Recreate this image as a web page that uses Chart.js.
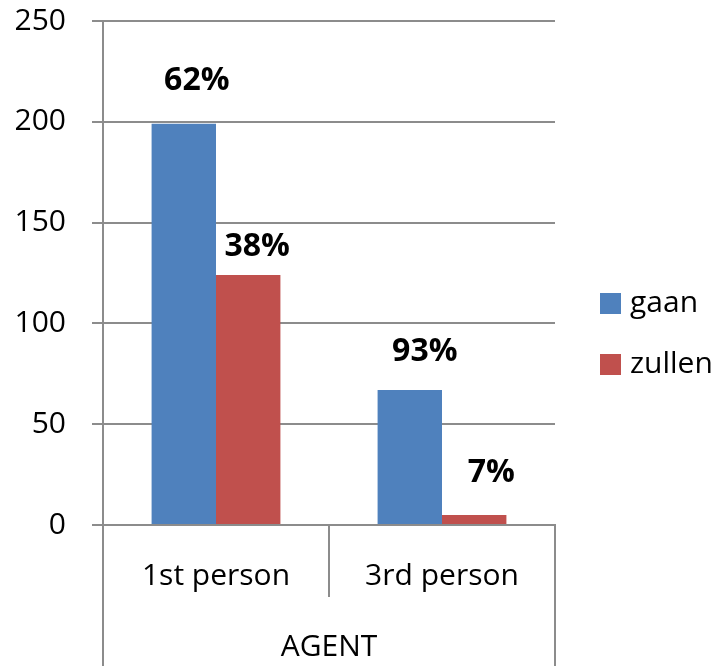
<!DOCTYPE html>
<html>
<head>
<meta charset="utf-8">
<script src="https://cdn.jsdelivr.net/npm/chart.js@4/dist/chart.umd.min.js"></script>
<style>
  html, body { margin: 0; padding: 0; background: #ffffff; }
  #wrap { width: 721px; height: 666px; position: relative; }
</style>
</head>
<body>
<div id="wrap"><canvas id="c" width="721" height="666"></canvas></div>
<script>
// ---- data ----
const categories = ['1st person', '3rd person'];
const groupLabel = ['AGENT'];
const seriesNames = ['gaan', 'zullen'];
const gaanValues = [199, 67];
const zullenValues = [124, 5];
const yTicks = [0, 50, 100, 150, 200, 250];

const colors = ['#4F81BD', '#C0504D'];
const gridColor = '#8c8c8c';
const fontFamily = '"Open Sans", "Liberation Sans", sans-serif';

// label offsets relative to bar top-center (manually placed in original)
const labelOffsets = [
  [[13, -44], [15, -39]],
  [[9, -29], [17, -43]]
];

const pctLabelPlugin = {
  id: 'pctLabels',
  afterDatasetsDraw(chart) {
    const ctx = chart.ctx;
    const ds = chart.data.datasets;
    ctx.save();
    ctx.font = 'bold 32px ' + fontFamily;
    ctx.fillStyle = '#000';
    ctx.textAlign = 'center';
    ctx.textBaseline = 'middle';
    ds.forEach((d, di) => {
      const meta = chart.getDatasetMeta(di);
      meta.data.forEach((bar, i) => {
        const total = ds.reduce((s, dd) => s + dd.data[i], 0);
        const pct = Math.round(d.data[i] / total * 100) + '%';
        const off = labelOffsets[di][i];
        ctx.fillText(pct, bar.x + off[0], bar.y + off[1] + 1);
      });
    });
    ctx.restore();
  }
};

const legendPlugin = {
  id: 'customLegend',
  afterDraw(chart) {
    const ctx = chart.ctx;
    const x0 = chart.chartArea.right + 45;
    ctx.save();
    ctx.font = '30px ' + fontFamily;
    ctx.textAlign = 'left';
    ctx.textBaseline = 'middle';
    chart.data.datasets.forEach((d, i) => {
      const yTop = 293 + i * 61;
      ctx.fillStyle = d.backgroundColor;
      ctx.fillRect(x0, yTop, 21, 21);
      ctx.fillStyle = '#000';
      ctx.fillText(d.label, x0 + 30, yTop + 10);
    });
    ctx.restore();
  }
};

function noPad(scale) {
  scale.paddingTop = 0; scale.paddingBottom = 0;
  scale.paddingLeft = 0; scale.paddingRight = 0;
}

new Chart(document.getElementById('c'), {
  type: 'bar',
  data: {
    labels: categories,
    datasets: [
      { label: seriesNames[0], data: gaanValues, backgroundColor: colors[0], borderWidth: 0 },
      { label: seriesNames[1], data: zullenValues, backgroundColor: colors[1], borderWidth: 0 }
    ]
  },
  options: {
    responsive: false,
    animation: false,
    devicePixelRatio: 1,
    categoryPercentage: 0.57,
    barPercentage: 1.0,
    layout: { padding: { top: 21, right: 166, bottom: 0, left: 0 } },
    plugins: {
      legend: { display: false },
      tooltip: { enabled: false },
      title: { display: false }
    },
    scales: {
      y: {
        min: 0,
        max: 250,
        afterBuildTicks(scale) { scale.ticks = yTicks.map(v => ({ value: v })); },
        afterFit(scale) { scale.width = 103; noPad(scale); },
        grid: { color: gridColor, lineWidth: 2, tickLength: 11, drawTicks: true },
        border: { display: true, color: gridColor, width: 2 },
        ticks: { color: '#000', padding: 26, font: { family: fontFamily, size: 30 } }
      },
      x: {
        weight: 0,
        afterFit(scale) { scale.height = 70; noPad(scale); },
        grid: { offset: true, drawOnChartArea: false, drawTicks: true, tickLength: 72, color: gridColor, lineWidth: 2 },
        border: { display: true, color: gridColor, width: 2 },
        ticks: { color: '#000', padding: -39, maxRotation: 0, autoSkip: false, font: { family: fontFamily, size: 30 } }
      },
      x2: {
        type: 'category',
        position: 'bottom',
        weight: 1,
        labels: groupLabel,
        afterFit(scale) { scale.height = 71; noPad(scale); },
        grid: { offset: true, drawOnChartArea: false, drawTicks: true, tickLength: 71, color: gridColor, lineWidth: 2 },
        border: { display: false },
        ticks: { color: '#000', padding: -37, maxRotation: 0, autoSkip: false, font: { family: fontFamily, size: 30 } }
      }
    }
  },
  plugins: [pctLabelPlugin, legendPlugin]
});
</script>
</body>
</html>
